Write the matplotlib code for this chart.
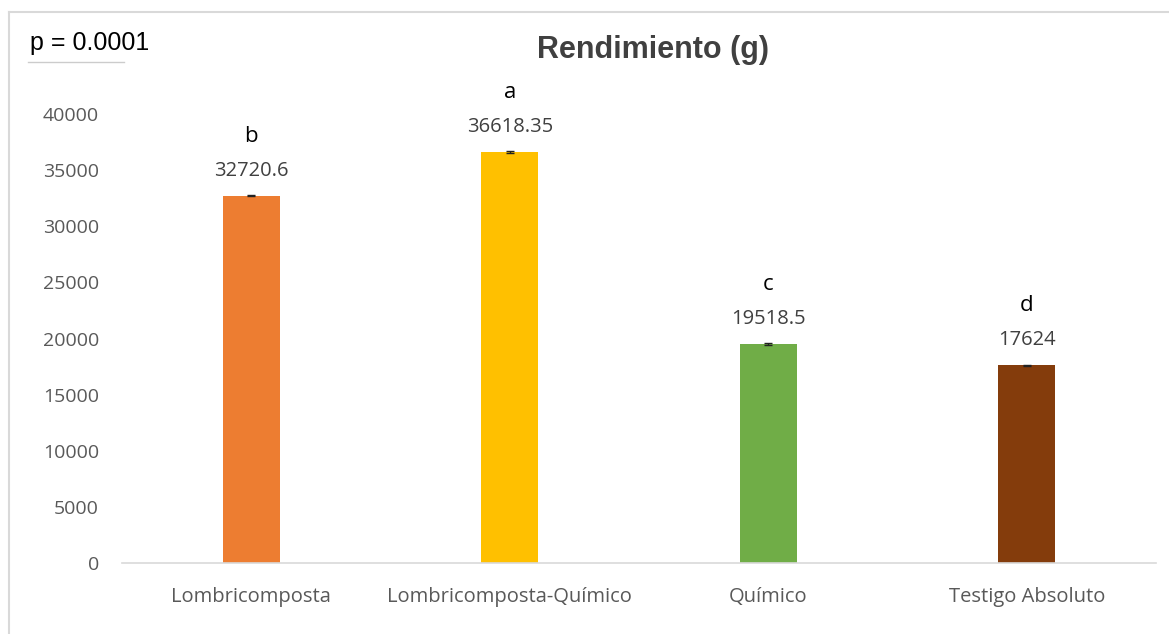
import matplotlib.pyplot as plt
from matplotlib.lines import Line2D

categories = ["Lombricomposta", "Lombricomposta-Químico", "Químico", "Testigo Absoluto"]
values = [32720.6, 36618.35, 19518.5, 17624]
value_labels = ["32720.6", "36618.35", "19518.5", "17624"]
letters = ["b", "a", "c", "d"]
errors = [60, 60, 60, 60]
colors = ["#ED7D31", "#FFC000", "#70AD47", "#843C0C"]
yticks = [0, 5000, 10000, 15000, 20000, 25000, 30000, 35000, 40000]

W, H = 1169, 634
fig = plt.figure(figsize=(W / 100, H / 100), dpi=100)
fig.patch.set_facecolor("white")

# chart border: only the top and left edges show in the crop
fig.add_artist(Line2D([9 / W, 1.0], [1 - 12 / H, 1 - 12 / H], transform=fig.transFigure,
                      color="#D9D9D9", linewidth=1.5))
fig.add_artist(Line2D([9 / W, 9 / W], [0, 1 - 12 / H], transform=fig.transFigure,
                      color="#D9D9D9", linewidth=1.5))

FONT = "Open Sans"
ax = fig.add_axes([122 / W, 71 / H, 1034 / W, 505 / H])
x = list(range(len(categories)))
ax.bar(x, values, width=0.22, color=colors, zorder=2)
ax.errorbar(x, values, yerr=errors, fmt="none", ecolor="#222222", elinewidth=1,
            capsize=3, capthick=1, zorder=3)

for xi, v, lab, let in zip(x, values, value_labels, letters):
    ax.annotate(lab, (xi, v), xytext=(0, 18), textcoords="offset points",
                ha="center", va="center", fontsize=14.5, color="#404040", family=FONT)
    ax.annotate(let, (xi, v), xytext=(0, 43), textcoords="offset points",
                ha="center", va="center", fontsize=16, color="black", family=FONT)

ax.set_xlim(-0.5, 3.5)
ax.set_ylim(0, 45000)
ax.set_yticks(yticks)
ax.set_yticklabels([str(t) for t in yticks], fontsize=14, color="#595959", family=FONT)
ax.set_xticks(x)
ax.set_xticklabels(categories, fontsize=14.5, color="#595959", family=FONT)
ax.tick_params(axis="both", length=0)
ax.tick_params(axis="y", pad=16.5)
ax.tick_params(axis="x", pad=17.5)
for s in ["top", "right", "left"]:
    ax.spines[s].set_visible(False)
ax.spines["bottom"].set_color("#D9D9D9")
ax.spines["bottom"].set_linewidth(1.2)

fig.text(653 / W, 1 - 50 / H, "Rendimiento (g)", ha="center", va="center",
         fontsize=22, fontweight="bold", color="#404040", family="Liberation Sans")
fig.text(30 / W, 1 - 43 / H, "p = 0.0001", ha="left", va="center",
         fontsize=18, color="black", family="Liberation Sans")
fig.add_artist(Line2D([28 / W, 124 / W], [1 - 62 / H, 1 - 62 / H], transform=fig.transFigure,
                      color="#CCCCCC", linewidth=1))

plt.savefig("out.png", dpi=100, facecolor="white")
